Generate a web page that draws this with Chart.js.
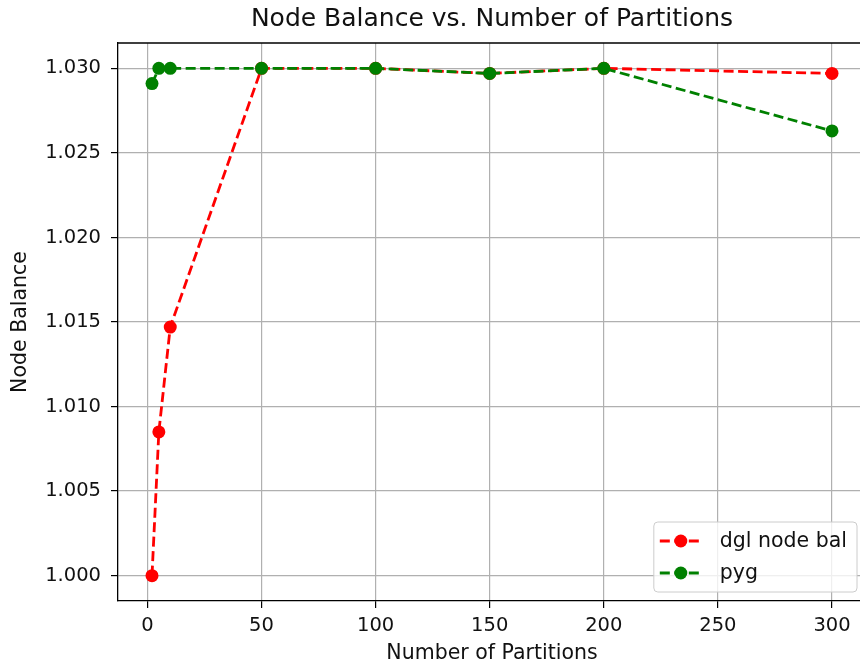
<!DOCTYPE html>
<html>
<head>
<meta charset="utf-8">
<script src="https://cdn.jsdelivr.net/npm/chart.js@4.4.1/dist/chart.umd.min.js"></script>
<style>
    html, body { margin: 0; padding: 0; background: #fff; overflow: hidden; }
    #wrap { width: 860px; height: 666px; overflow: hidden; }
</style>
</head>
<body>
<!-- the reference figure is cropped a few pixels short of its right spine -->
<div id="wrap"><canvas id="balanceChart" width="870" height="666"></canvas></div>
<script>
        // Values
        const partitions = [2, 5, 10, 50, 100, 150, 200, 300];
        const dglNodeBal = [1.0000, 1.0085, 1.0147, 1.0300, 1.0300, 1.0297, 1.0300, 1.0297];
        const pygNodeBal = [1.0291, 1.0300, 1.0300, 1.0300, 1.0300, 1.0297, 1.0300, 1.0263];
        const xTicks = [0, 50, 100, 150, 200, 250, 300];
        const yTicks = [1.000, 1.005, 1.010, 1.015, 1.020, 1.025, 1.030];

        const FONT = "'DejaVu Sans', 'Liberation Sans', sans-serif";
        const GRID = '#b0b0b0';

        Chart.defaults.font.family = FONT;
        Chart.defaults.color = '#111';

        function toPoints(values) {
            return partitions.map((x, i) => ({ x: x, y: values[i] }));
        }

        // top and right spines, like matplotlib's box
        const framePlugin = {
            id: 'frame',
            beforeDatasetsDraw(chart) {
                const { ctx, chartArea: a } = chart;
                ctx.save();
                ctx.strokeStyle = '#000';
                ctx.lineWidth = 1.3;
                ctx.beginPath();
                ctx.moveTo(a.left, a.top);
                ctx.lineTo(a.right, a.top);
                ctx.lineTo(a.right, a.bottom);
                ctx.stroke();
                ctx.restore();
            }
        };

        // legend in the lower right corner of the plot area
        const cornerLegend = {
            id: 'cornerLegend',
            afterDraw(chart) {
                const { ctx, chartArea: a } = chart;
                const sets = chart.data.datasets;
                const fontSize = 20.5, rowH = 32, pad = 8;
                ctx.save();
                ctx.font = fontSize + 'px ' + FONT;
                let textW = 0;
                sets.forEach(ds => { textW = Math.max(textW, ctx.measureText(ds.label).width); });
                const w = 6 + 42 + 18 + textW + 10;
                const h = pad * 2 + rowH * sets.length - 10;
                const x = a.right - 9 - w;
                const y = a.bottom - 9 - h;

                ctx.beginPath();
                ctx.roundRect(x, y, w, h, 4);
                ctx.fillStyle = 'rgba(255,255,255,0.8)';
                ctx.fill();
                ctx.strokeStyle = '#cccccc';
                ctx.lineWidth = 1;
                ctx.stroke();

                sets.forEach((ds, i) => {
                    const cy = y + pad + 11 + i * rowH;
                    const hx = x + 6;
                    ctx.strokeStyle = ds.borderColor;
                    ctx.lineWidth = ds.borderWidth;
                    ctx.setLineDash(ds.borderDash);
                    ctx.beginPath();
                    ctx.moveTo(hx, cy);
                    ctx.lineTo(hx + 42, cy);
                    ctx.stroke();
                    ctx.setLineDash([]);
                    ctx.beginPath();
                    ctx.arc(hx + 21, cy, ds.pointRadius, 0, Math.PI * 2);
                    ctx.fillStyle = ds.pointBackgroundColor;
                    ctx.fill();
                    ctx.fillStyle = '#111';
                    ctx.textBaseline = 'middle';
                    ctx.textAlign = 'left';
                    ctx.fillText(ds.label, hx + 42 + 18, cy + 1);
                });
                ctx.restore();
            }
        };

        const ctx = document.getElementById('balanceChart').getContext('2d');
        const balanceChart = new Chart(ctx, {
            type: 'line',
            data: {
                datasets: [
                    {
                        label: 'dgl node bal',
                        data: toPoints(dglNodeBal),
                        borderColor: '#ff0000',
                        backgroundColor: '#ff0000',
                        pointBackgroundColor: '#ff0000',
                        pointBorderColor: '#ff0000',
                        borderWidth: 2.8,
                        borderDash: [10, 4.5],
                        pointRadius: 6.5,
                        pointBorderWidth: 0,
                        tension: 0,
                        fill: false,
                        order: 1
                    },
                    {
                        label: 'pyg',
                        data: toPoints(pygNodeBal),
                        borderColor: '#008000',
                        backgroundColor: '#008000',
                        pointBackgroundColor: '#008000',
                        pointBorderColor: '#008000',
                        borderWidth: 2.8,
                        borderDash: [10, 4.5],
                        pointRadius: 6.5,
                        pointBorderWidth: 0,
                        tension: 0,
                        fill: false,
                        order: 0
                    }
                ]
            },
            options: {
                responsive: false,
                animation: false,
                layout: { autoPadding: false, padding: { left: 0, right: 4, top: 0, bottom: 0 } },
                plugins: {
                    legend: { display: false },
                    tooltip: { enabled: false },
                    title: {
                        display: true,
                        text: 'Node Balance vs. Number of Partitions',
                        fullSize: false,
                        font: { size: 25, weight: 'normal' },
                        color: '#111',
                        padding: { top: 4.5, bottom: 8.5 }
                    }
                },
                scales: {
                    x: {
                        type: 'linear',
                        min: -12.9,
                        max: 314.9,
                        afterBuildTicks: scale => { scale.ticks = xTicks.map(v => ({ value: v })); },
                        afterFit: scale => {
                            scale.height = 65;
                            scale.paddingLeft = 0;
                            scale.paddingRight = 0;
                        },
                        grid: { color: GRID, lineWidth: 1.2, tickLength: 7, tickColor: '#000', tickWidth: 1.2 },
                        border: { color: '#000', width: 1.3 },
                        ticks: {
                            font: { size: 19.5 },
                            padding: 6,
                            maxRotation: 0,
                            callback: v => String(v)
                        },
                        title: {
                            display: true,
                            text: 'Number of Partitions',
                            font: { size: 20.5 },
                            padding: { top: 0, bottom: 0 }
                        }
                    },
                    y: {
                        type: 'linear',
                        min: 0.9985,
                        max: 1.0315,
                        afterBuildTicks: scale => { scale.ticks = yTicks.map(v => ({ value: v })); },
                        afterFit: scale => {
                            scale.width = 118;
                            scale.paddingTop = 0;
                            scale.paddingBottom = 0;
                        },
                        grid: { color: GRID, lineWidth: 1.2, tickLength: 7, tickColor: '#000', tickWidth: 1.2 },
                        border: { color: '#000', width: 1.3 },
                        ticks: {
                            font: { size: 19.5 },
                            padding: 10,
                            callback: v => v.toFixed(3)
                        },
                        title: {
                            display: true,
                            text: 'Node Balance',
                            font: { size: 20.5 },
                            padding: { top: 8.5, bottom: 0 }
                        }
                    }
                }
            },
            plugins: [framePlugin, cornerLegend]
        });
</script>
</body>
</html>
